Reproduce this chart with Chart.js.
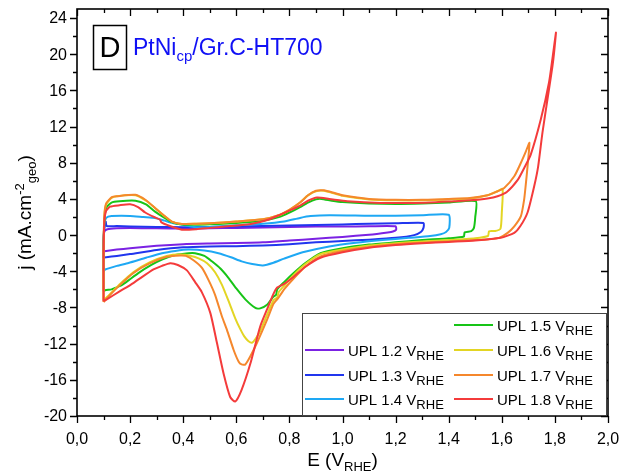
<!DOCTYPE html>
<html>
<head>
<meta charset="utf-8">
<title>PtNi CV - UPL series</title>
<script src="https://cdn.jsdelivr.net/npm/chart.js@4.4.1/dist/chart.umd.min.js"></script>
<style>
  html, body { margin: 0; padding: 0; background: #ffffff; }
  #wrap { width: 620px; height: 476px; }
</style>
</head>
<body>
<div id="wrap"><canvas id="myChart" width="620" height="476"></canvas></div>
<script>
// Legend labels and colours
const curveNames = ["UPL 1.2", "UPL 1.3", "UPL 1.4", "UPL 1.5", "UPL 1.6", "UPL 1.7", "UPL 1.8"];
const curveColors = ["#7b22e3", "#2136ee", "#1ea8f4", "#17c417", "#e3d523", "#f5872c", "#f43b3b"];

// Axis ticks
const xMajorTicks = [0.0, 0.2, 0.4, 0.6, 0.8, 1.0, 1.2, 1.4, 1.6, 1.8, 2.0];
const xTickLabels = ["0,0", "0,2", "0,4", "0,6", "0,8", "1,0", "1,2", "1,4", "1,6", "1,8", "2,0"];
const xMinorTicks = [0.1, 0.3, 0.5, 0.7, 0.9, 1.1, 1.3, 1.5, 1.7, 1.9];
const yMajorTicks = [-20, -16, -12, -8, -4, 0, 4, 8, 12, 16, 20, 24];
const yTickLabels = ["-20", "-16", "-12", "-8", "-4", "0", "4", "8", "12", "16", "20", "24"];
const yMinorTicks = [-18, -14, -10, -6, -2, 2, 6, 10, 14, 18, 22];

// CV loops: E (V vs RHE) and j (mA/cm2), anodic sweep then cathodic sweep
const eUpl12 = [0.100, 0.100, 0.103, 0.115, 0.150, 0.200, 0.300, 0.400, 0.500, 0.600, 0.700, 0.800, 0.900, 1.000, 1.100, 1.200,
  1.202, 1.190, 1.170, 1.100, 1.000, 0.900, 0.800, 0.700, 0.600, 0.500, 0.400, 0.300, 0.200, 0.150, 0.110, 0.100];
const jUpl12 = [-1.8, -0.6, 0.4, 0.65, 0.75, 0.8, 0.75, 0.72, 0.75, 0.8, 0.85, 0.9, 0.95, 0.95, 0.97, 0.97,
  0.6, 0.4, 0.3, 0.05, -0.2, -0.4, -0.6, -0.8, -0.88, -0.93, -1.0, -1.18, -1.45, -1.6, -1.75, -1.8];

const eUpl13 = [0.100, 0.100, 0.104, 0.108, 0.112, 0.150, 0.200, 0.300, 0.400, 0.500, 0.600, 0.700, 0.800, 0.900, 1.000, 1.100, 1.200, 1.305,
  1.305, 1.295, 1.270, 1.200, 1.100, 1.000, 0.900, 0.800, 0.700, 0.600, 0.500, 0.400, 0.300, 0.200, 0.150, 0.110, 0.100];
const jUpl13 = [-2.5, -0.5, 0.9, 1.5, 1.0, 1.0, 0.95, 0.9, 0.88, 0.9, 0.95, 1.0, 1.05, 1.12, 1.18, 1.25, 1.3, 1.35,
  0.8, 0.35, 0.0, -0.3, -0.5, -0.65, -0.8, -1.0, -1.15, -1.22, -1.25, -1.35, -1.65, -2.1, -2.3, -2.45, -2.5];

const eUpl14 = [0.100, 0.100, 0.103, 0.110, 0.130, 0.200, 0.250, 0.294, 0.330, 0.360, 0.395, 0.440, 0.500, 0.600, 0.700, 0.780, 0.840, 0.880, 0.950, 1.100, 1.200, 1.300, 1.400,
  1.402, 1.390, 1.370, 1.330, 1.250, 1.150, 1.050, 0.950, 0.850, 0.780, 0.740, 0.700, 0.660, 0.620, 0.580, 0.533, 0.480, 0.420, 0.370, 0.320, 0.260, 0.194, 0.150, 0.106, 0.100];
const jUpl14 = [-4.0, -1.0, 1.2, 1.9, 2.1, 2.12, 2.0, 1.9, 1.6, 1.35, 1.16, 0.9, 0.9, 1.1, 1.25, 1.5, 1.9, 2.1, 2.2, 2.15, 2.15, 2.2, 2.25,
  0.8, 0.35, 0.1, -0.1, -0.3, -0.55, -0.85, -1.25, -1.9, -2.6, -3.05, -3.35, -3.2, -2.9, -2.45, -2.0, -1.7, -1.6, -1.75, -2.0, -2.5, -3.08, -3.4, -3.8, -4.0];

const eUpl15 = [0.100, 0.100, 0.103, 0.110, 0.130, 0.160, 0.220, 0.260, 0.294, 0.330, 0.357, 0.395, 0.450, 0.500, 0.600, 0.700, 0.760, 0.800, 0.840, 0.870, 0.900, 0.920, 0.960, 1.000, 1.100, 1.200, 1.300, 1.400, 1.502,
  1.500, 1.495, 1.485, 1.460, 1.457, 1.400, 1.300, 1.200, 1.100, 1.000, 0.917, 0.860, 0.816, 0.780, 0.754, 0.750, 0.740, 0.716, 0.690, 0.672, 0.634, 0.600, 0.571, 0.540, 0.508, 0.480, 0.445, 0.420, 0.370, 0.320, 0.280, 0.231, 0.194, 0.170, 0.143, 0.130, 0.106, 0.100];
const jUpl15 = [-6.2, -2.0, 1.5, 3.0, 3.6, 3.75, 3.8, 3.4, 2.6, 1.9, 1.45, 1.16, 1.15, 1.2, 1.35, 1.6, 2.0, 2.5, 3.1, 3.6, 3.95, 4.0, 3.8, 3.65, 3.5, 3.45, 3.5, 3.6, 3.75,
  2.0, 0.8, 0.45, 0.3, -0.15, -0.35, -0.55, -0.8, -1.05, -1.45, -2.0, -3.1, -4.2, -5.2, -6.0, -6.6, -6.8, -7.7, -8.1, -8.05, -7.1, -5.9, -4.75, -3.7, -2.9, -2.3, -2.0, -2.0, -2.2, -2.7, -3.3, -4.2, -5.0, -5.5, -5.85, -6.0, -6.1, -6.2];

const eUpl16 = [0.100, 0.100, 0.103, 0.110, 0.130, 0.150, 0.220, 0.260, 0.294, 0.330, 0.357, 0.395, 0.450, 0.500, 0.600, 0.700, 0.760, 0.800, 0.840, 0.870, 0.900, 0.930, 0.970, 1.000, 1.100, 1.200, 1.300, 1.400, 1.480, 1.546, 1.584, 1.603,
  1.600, 1.595, 1.575, 1.552, 1.548, 1.500, 1.400, 1.300, 1.200, 1.100, 1.000, 0.917, 0.860, 0.816, 0.780, 0.760, 0.754, 0.740, 0.716, 0.690, 0.672, 0.659, 0.645, 0.630, 0.615, 0.596, 0.575, 0.546, 0.520, 0.490, 0.460, 0.430, 0.389, 0.338, 0.275, 0.212, 0.162, 0.125, 0.100];
const jUpl16 = [-7.2, -2.0, 2.0, 3.4, 4.1, 4.3, 4.4, 3.8, 3.0, 2.1, 1.5, 1.24, 1.25, 1.3, 1.5, 1.75, 2.2, 2.8, 3.6, 4.4, 4.85, 4.9, 4.6, 4.35, 3.95, 3.85, 3.85, 3.95, 4.05, 4.4, 4.85, 5.1,
  2.5, 0.7, 0.45, 0.42, -0.1, -0.35, -0.55, -0.7, -0.9, -1.15, -1.6, -2.1, -3.2, -4.4, -5.6, -6.3, -6.9, -7.2, -8.8, -10.6, -11.5, -11.9, -11.7, -11.2, -10.4, -9.2, -7.6, -5.5, -4.1, -3.1, -2.6, -2.3, -2.15, -2.3, -3.0, -4.1, -5.4, -6.5, -7.2];

const eUpl17 = [0.100, 0.100, 0.103, 0.110, 0.131, 0.150, 0.220, 0.260, 0.294, 0.330, 0.357, 0.395, 0.450, 0.500, 0.600, 0.700, 0.760, 0.800, 0.840, 0.870, 0.900, 0.930, 0.970, 1.000, 1.100, 1.200, 1.300, 1.400, 1.480, 1.546, 1.584, 1.609, 1.647, 1.672, 1.690, 1.704,
  1.697, 1.690, 1.684, 1.672, 1.647, 1.622, 1.590, 1.550, 1.500, 1.400, 1.300, 1.200, 1.100, 1.000, 0.917, 0.860, 0.816, 0.780, 0.764, 0.754, 0.740, 0.716, 0.678, 0.653, 0.634, 0.620, 0.609, 0.590, 0.565, 0.546, 0.520, 0.496, 0.470, 0.440, 0.410, 0.389, 0.338, 0.275, 0.212, 0.162, 0.125, 0.100];
const jUpl17 = [-7.4, -2.0, 2.2, 3.5, 4.2, 4.3, 4.45, 3.85, 3.0, 2.1, 1.5, 1.24, 1.25, 1.3, 1.5, 1.75, 2.2, 2.8, 3.6, 4.4, 4.9, 4.95, 4.65, 4.4, 4.0, 3.9, 3.9, 4.0, 4.1, 4.4, 4.85, 5.2, 6.5, 8.0, 9.2, 10.2,
  7.6, 5.5, 3.9, 2.1, 0.97, 0.25, -0.3, -0.45, -0.55, -0.7, -0.85, -1.0, -1.3, -1.75, -2.35, -3.5, -4.8, -6.0, -6.7, -7.1, -7.6, -9.35, -11.9, -13.4, -14.3, -14.3, -14.0, -12.7, -10.5, -9.0, -6.6, -5.0, -3.6, -2.8, -2.3, -2.25, -2.4, -3.1, -4.2, -5.5, -6.6, -7.4];

const eUpl18 = [0.100, 0.100, 0.103, 0.110, 0.125, 0.160, 0.200, 0.230, 0.257, 0.290, 0.313, 0.318, 0.350, 0.395, 0.450, 0.500, 0.577, 0.650, 0.720, 0.766, 0.800, 0.842, 0.870, 0.904, 0.950, 1.018, 1.143, 1.250, 1.330, 1.420, 1.483, 1.546, 1.584, 1.620, 1.660, 1.684, 1.709, 1.747, 1.778, 1.792, 1.804,
  1.797, 1.791, 1.772, 1.753, 1.737, 1.722, 1.697, 1.670, 1.647, 1.596, 1.500, 1.400, 1.300, 1.200, 1.100, 1.000, 0.917, 0.860, 0.816, 0.780, 0.754, 0.740, 0.720, 0.690, 0.653, 0.620, 0.596, 0.577, 0.552, 0.527, 0.502, 0.470, 0.445, 0.414, 0.380, 0.351, 0.320, 0.288, 0.212, 0.162, 0.112, 0.100];
const jUpl18 = [-7.3, -2.0, 1.5, 2.7, 3.15, 3.3, 3.4, 3.1, 2.5, 2.0, 1.7, 1.4, 1.0, 0.6, 0.65, 0.8, 1.0, 1.2, 1.7, 2.27, 2.7, 3.3, 3.8, 4.15, 4.0, 3.75, 3.55, 3.55, 3.6, 3.75, 3.85, 4.05, 4.3, 4.8, 6.1, 7.4, 8.9, 12.8, 16.9, 19.8, 22.4,
  20.2, 18.7, 15.0, 11.3, 7.6, 5.4, 2.5, 1.0, 0.25, -0.3, -0.6, -0.75, -0.9, -1.1, -1.4, -1.9, -2.5, -3.5, -4.6, -5.4, -5.8, -6.5, -7.9, -10.1, -14.2, -17.1, -18.4, -17.9, -15.3, -11.9, -8.6, -6.3, -5.2, -3.9, -3.3, -3.1, -3.4, -3.8, -5.3, -6.2, -7.1, -7.3];

const eSeries = [eUpl12, eUpl13, eUpl14, eUpl15, eUpl16, eUpl17, eUpl18];
const jSeries = [jUpl12, jUpl13, jUpl14, jUpl15, jUpl16, jUpl17, jUpl18];

const FONT = "'Liberation Sans', Arial, sans-serif";
const ctx = document.getElementById('myChart');

function toPoints(eArr, jArr) {
  const pts = [];
  for (let i = 0; i < eArr.length; i++) {
    pts.push({ x: eArr[i], y: jArr[i] });
  }
  return pts;
}

// draw text with a sub / superscript part, returns end x
function drawRich(c, parts, x, y, size, small) {
  let cx = x;
  parts.forEach(function (p) {
    let fs = size;
    let dy = 0;
    if (p.sub) { fs = small; dy = size * 0.28; }
    if (p.sup) { fs = small; dy = -size * 0.38; }
    c.font = fs + "px " + FONT;
    c.fillText(p.t, cx, y + dy);
    cx += c.measureText(p.t).width;
  });
  return cx;
}

function richWidth(c, parts, size, small) {
  let w = 0;
  parts.forEach(function (p) {
    const fs = (p.sub || p.sup) ? small : size;
    c.font = fs + "px " + FONT;
    w += c.measureText(p.t).width;
  });
  return w;
}

// background
const whiteBg = {
  id: 'whiteBg',
  beforeDraw: function (chart) {
    const c = chart.ctx;
    c.save();
    c.fillStyle = '#ffffff';
    c.fillRect(0, 0, chart.width, chart.height);
    c.restore();
  }
};

// frame, ticks, labels, legend, panel title
const furniture = {
  id: 'furniture',
  afterDraw: function (chart) {
    const c = chart.ctx;
    const xs = chart.scales.x;
    const ys = chart.scales.y;
    const a = chart.chartArea;
    c.save();
    c.strokeStyle = '#000';
    c.fillStyle = '#000';

    // ticks
    c.lineWidth = 1.3;
    c.beginPath();
    xMajorTicks.forEach(function (v) {
      const px = Math.round(xs.getPixelForValue(v)) + 0.5;
      c.moveTo(px, a.bottom); c.lineTo(px, a.bottom + 7);
      c.moveTo(px, a.top); c.lineTo(px, a.top + 7);
    });
    xMinorTicks.forEach(function (v) {
      const px = Math.round(xs.getPixelForValue(v)) + 0.5;
      c.moveTo(px, a.bottom); c.lineTo(px, a.bottom + 4);
      c.moveTo(px, a.top); c.lineTo(px, a.top + 4);
    });
    yMajorTicks.forEach(function (v) {
      const py = Math.round(ys.getPixelForValue(v)) + 0.5;
      c.moveTo(a.left - 7, py); c.lineTo(a.left, py);
      c.moveTo(a.right, py); c.lineTo(a.right - 7, py);
    });
    yMinorTicks.forEach(function (v) {
      const py = Math.round(ys.getPixelForValue(v)) + 0.5;
      c.moveTo(a.left - 4, py); c.lineTo(a.left, py);
      c.moveTo(a.right, py); c.lineTo(a.right - 4, py);
    });
    c.stroke();

    // frame
    c.lineWidth = 1.6;
    c.strokeRect(a.left, a.top, a.right - a.left, a.bottom - a.top);

    // tick labels
    c.font = "16px " + FONT;
    c.textAlign = 'center';
    c.textBaseline = 'alphabetic';
    xMajorTicks.forEach(function (v, i) {
      c.fillText(xTickLabels[i], xs.getPixelForValue(v), a.bottom + 28);
    });
    c.textAlign = 'right';
    c.textBaseline = 'middle';
    yMajorTicks.forEach(function (v, i) {
      c.fillText(yTickLabels[i], a.left - 10, ys.getPixelForValue(v) + 1);
    });

    // axis titles
    c.textAlign = 'left';
    c.textBaseline = 'alphabetic';
    const xTitle = [{ t: "E (V" }, { t: "RHE", sub: true }, { t: ")" }];
    const xw = richWidth(c, xTitle, 19, 13);
    drawRich(c, xTitle, (a.left + a.right) / 2 - xw / 2, 466, 19, 13);

    const yTitle = [{ t: "j (mA.cm" }, { t: "-2", sup: true }, { t: "geo", sub: true }, { t: ")" }];
    c.save();
    c.translate(31, (a.top + a.bottom) / 2);
    c.rotate(-Math.PI / 2);
    const yw = richWidth(c, yTitle, 19, 13);
    drawRich(c, yTitle, -yw / 2, 0, 19, 13);
    c.restore();

    // panel letter
    c.lineWidth = 1.5;
    c.strokeRect(93.5, 25.5, 33, 44);
    c.font = "29px " + FONT;
    c.textAlign = 'center';
    c.textBaseline = 'middle';
    c.fillText("D", 110, 48.5);

    // sample name
    c.fillStyle = '#1010f5';
    c.textAlign = 'left';
    c.textBaseline = 'alphabetic';
    drawRich(c, [{ t: "PtNi" }, { t: "cp", sub: true }, { t: "/Gr.C-HT700" }], 133, 55, 23, 15);

    // legend
    c.strokeStyle = '#444';
    c.lineWidth = 1;
    c.fillStyle = '#fff';
    c.fillRect(302.5, 313.5, 304, 102);
    c.strokeRect(302.5, 313.5, 304, 102);
    const rows = [
      { i: 3, lx: 454, ty: 325 },
      { i: 0, lx: 305, ty: 350 },
      { i: 4, lx: 454, ty: 350 },
      { i: 1, lx: 305, ty: 375 },
      { i: 5, lx: 454, ty: 375 },
      { i: 2, lx: 305, ty: 399 },
      { i: 6, lx: 454, ty: 399 }
    ];
    rows.forEach(function (r) {
      c.strokeStyle = curveColors[r.i];
      c.lineWidth = 2;
      c.beginPath();
      c.moveTo(r.lx, r.ty);
      c.lineTo(r.lx + 39, r.ty);
      c.stroke();
      c.fillStyle = '#000';
      c.textBaseline = 'alphabetic';
      drawRich(c, [{ t: curveNames[r.i] + " V" }, { t: "RHE", sub: true }], r.lx + 43, r.ty + 5.5, 15, 13);
    });
    c.restore();
  }
};

function getChart() {
  const datasets = [];
  for (let i = 0; i < eSeries.length; i++) {
    datasets.push({
      label: curveNames[i],
      data: toPoints(eSeries[i], jSeries[i]),
      showLine: true,
      borderColor: curveColors[i],
      backgroundColor: curveColors[i],
      borderWidth: 2,
      pointRadius: 0,
      tension: 0.2,
      fill: false,
      order: eSeries.length - i
    });
  }

  new Chart(ctx, {
    type: 'scatter',
    data: { datasets: datasets },
    options: {
      responsive: false,
      animation: false,
      devicePixelRatio: 1,
      layout: { padding: { left: 77, right: 12, top: 9, bottom: 60 } },
      plugins: {
        legend: { display: false },
        tooltip: { enabled: false }
      },
      scales: {
        x: { type: 'linear', min: 0, max: 2, display: false },
        y: { type: 'linear', min: -20, max: 25, display: false }
      }
    },
    plugins: [whiteBg, furniture]
  });
}

getChart();
</script>
</body>
</html>
